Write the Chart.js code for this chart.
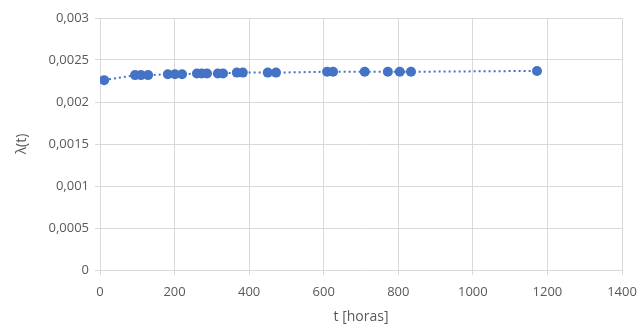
<!DOCTYPE html>
<html><head><meta charset="utf-8">
<script src="https://cdn.jsdelivr.net/npm/chart.js@4/dist/chart.umd.min.js"></script>
<style>html,body{margin:0;padding:0;background:#fff}#wrap{width:640px;height:329px}</style>
</head><body><div id="wrap"><canvas id="c"></canvas></div>
<script>
const hours = [11, 94, 110, 129, 182, 201, 220, 260, 273, 287, 316, 330, 367, 383, 450, 472, 609, 625, 710, 772, 804, 834, 1172];
const lambda = [0.00226, 0.00232, 0.00232, 0.00232, 0.00233, 0.00233, 0.00233, 0.00234, 0.00234, 0.00234, 0.00234, 0.00234, 0.00235, 0.00235, 0.00235, 0.00235, 0.00236, 0.00236, 0.00236, 0.00236, 0.00236, 0.00236, 0.00237];
const xTicks = [0, 200, 400, 600, 800, 1000, 1200, 1400];
const yTicks = [0, 0.0005, 0.001, 0.0015, 0.002, 0.0025, 0.003];
const xTitle = 't [horas]';
const yTitle = 'λ(t)';

const pts = hours.map((h, i) => ({x: h, y: lambda[i]}));
const FONT = "'Open Sans', sans-serif";
const TXT = '#595959';
const GRID = '#d9d9d9';

new Chart(document.getElementById('c'), {
  type: 'scatter',
  data: { datasets: [{
    data: pts,
    showLine: true,
    borderColor: '#4472C4',
    backgroundColor: '#4472C4',
    borderWidth: 2,
    borderDash: [2, 3],
    pointRadius: 5,
    pointHoverRadius: 5,
    pointBorderWidth: 0
  }]},
  options: {
    responsive: true, maintainAspectRatio: false, animation: false,
    layout: { padding: { top: 18, right: 18, left: 10, bottom: 0 } },
    plugins: { legend: { display: false }, tooltip: { enabled: false } },
    scales: {
      x: {
        type: 'linear', min: 0, max: 1400,
        afterBuildTicks: s => { s.ticks = xTicks.map(v => ({value: v})); },
        afterFit: s => { s.height = 59; s.paddingRight = 0; s.paddingLeft = 0; },
        grid: { color: GRID, lineWidth: 1, tickLength: 5, tickColor: GRID },
        border: { color: GRID },
        ticks: { color: TXT, font: { family: FONT, size: 13 }, padding: 9, maxRotation: 0,
          callback: v => String(v) },
        title: { display: true, text: xTitle, color: TXT, font: { family: FONT, size: 14 }, padding: { top: 2 } }
      },
      y: {
        min: 0, max: 0.003,
        afterBuildTicks: s => { s.ticks = yTicks.map(v => ({value: v})); },
        afterFit: s => { s.width = 90; s.paddingTop = 0; s.paddingBottom = 0; },
        grid: { color: GRID, lineWidth: 1, tickLength: 5, tickColor: GRID },
        border: { color: GRID },
        ticks: { color: TXT, font: { family: FONT, size: 13 }, padding: 6,
          callback: v => String(v).replace('.', ',') },
        title: { display: true, text: yTitle, color: TXT, font: { family: FONT, size: 14 }, padding: { bottom: 4 } }
      }
    }
  }
});
</script></body></html>
